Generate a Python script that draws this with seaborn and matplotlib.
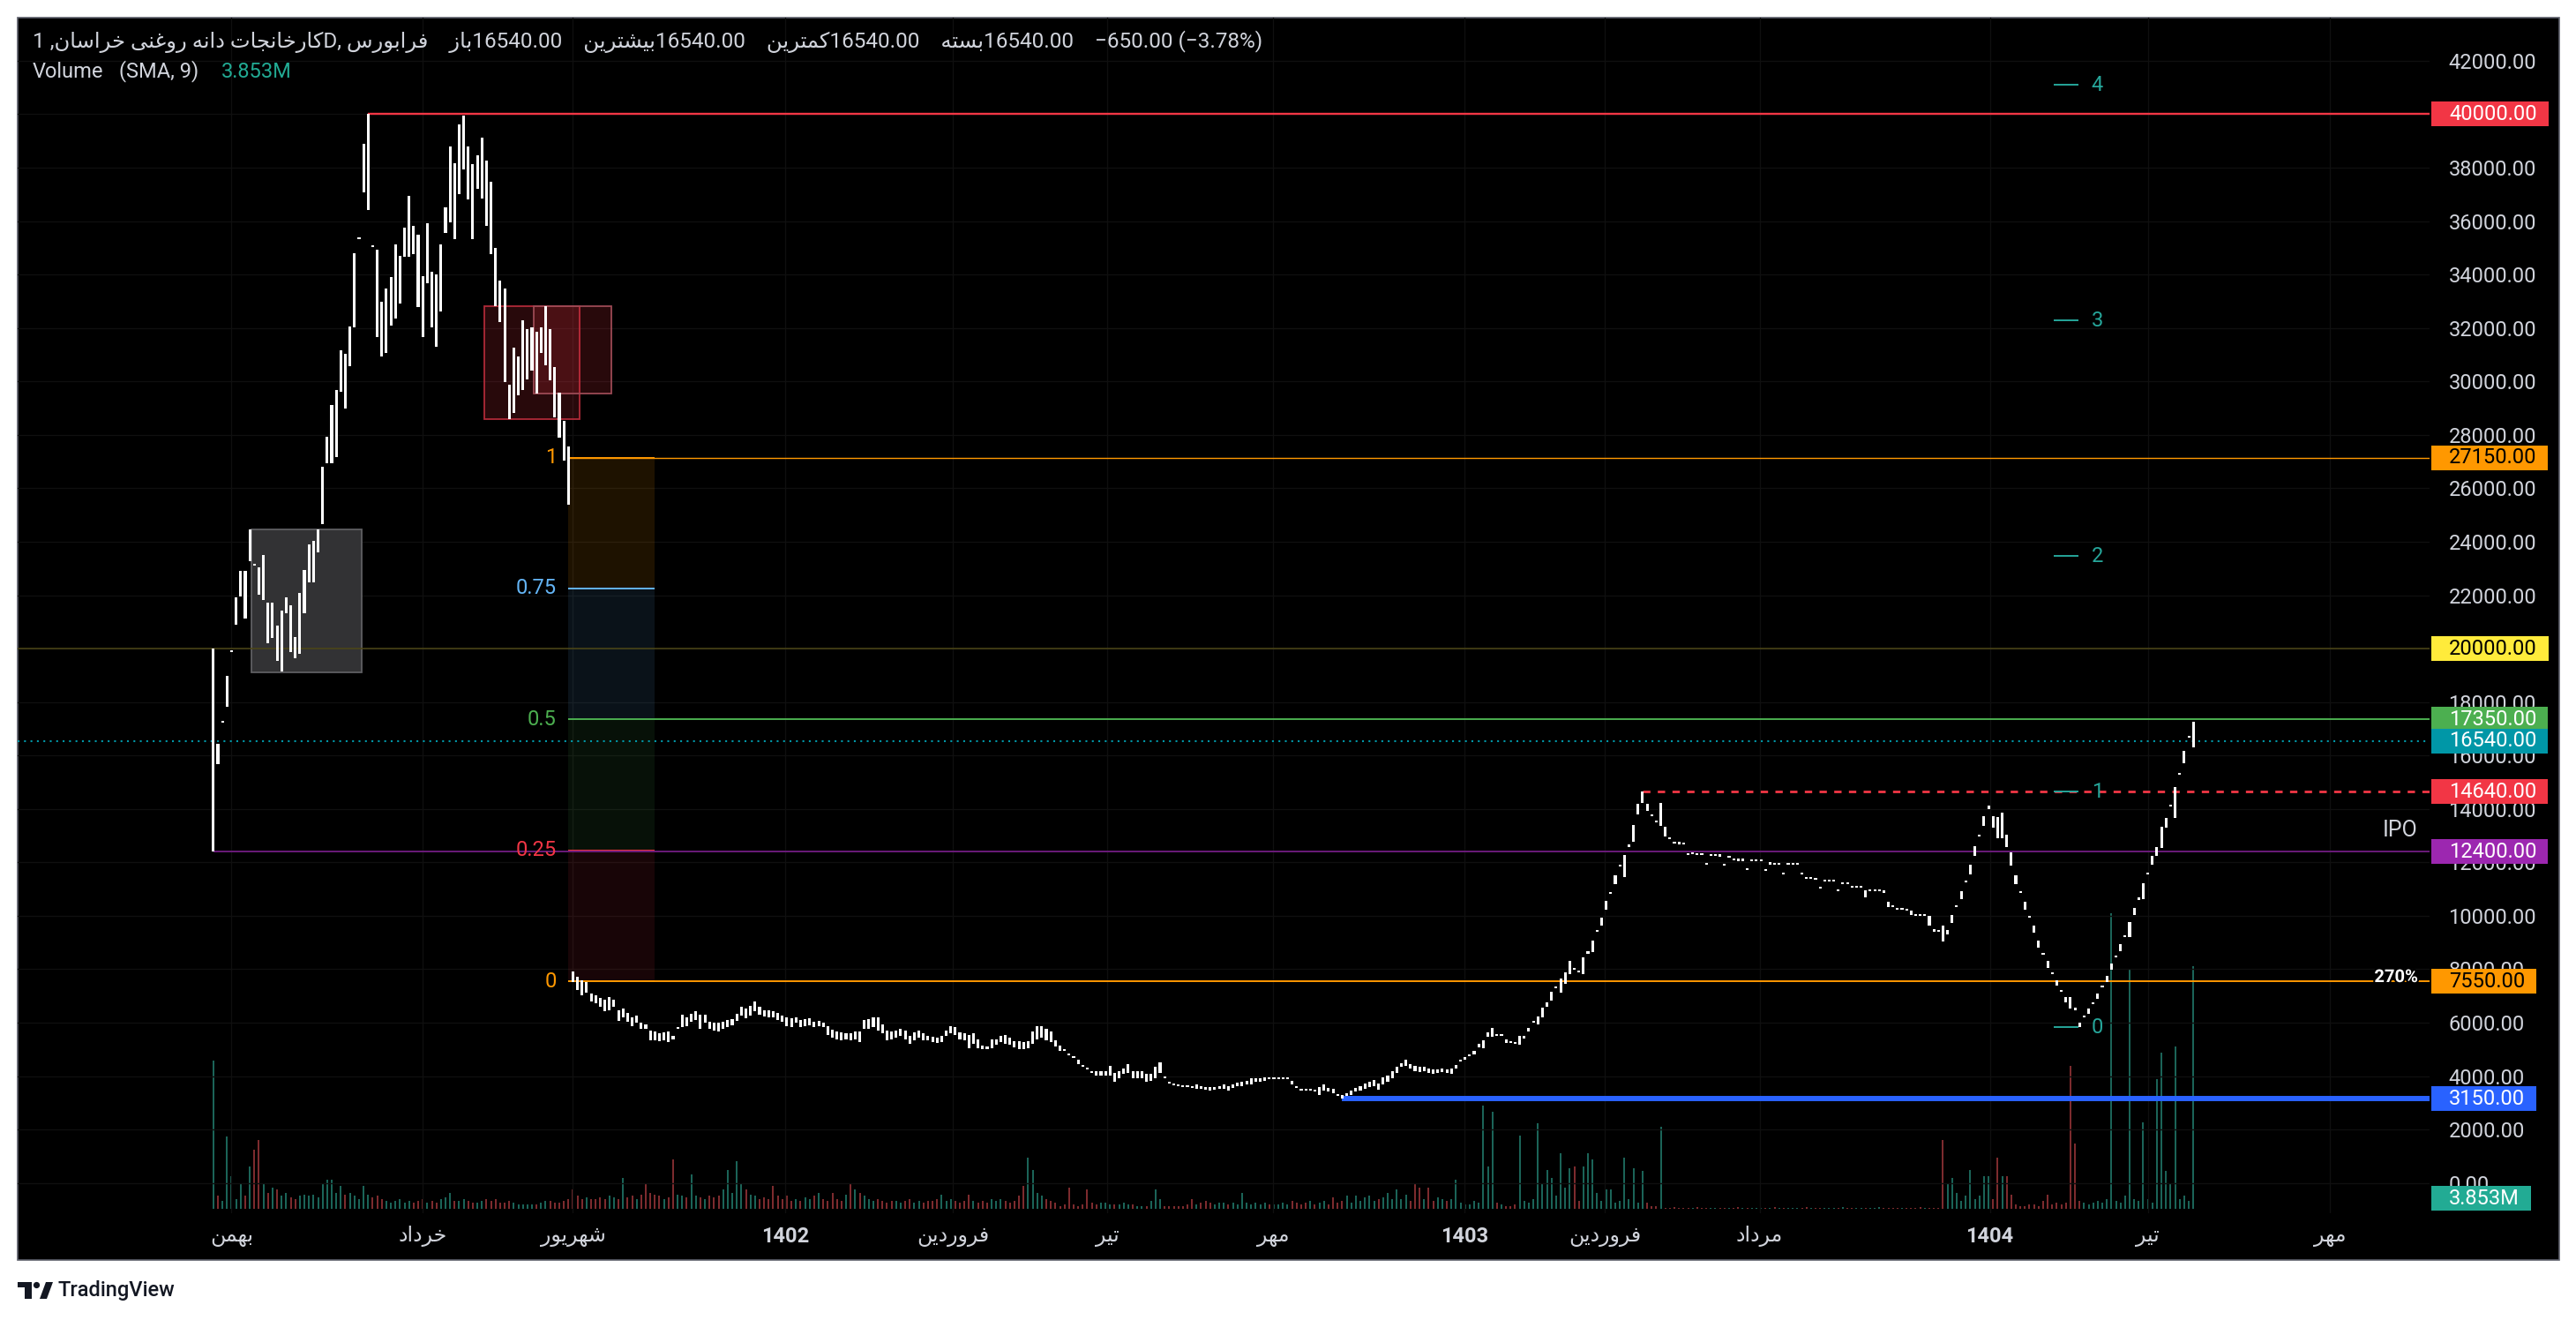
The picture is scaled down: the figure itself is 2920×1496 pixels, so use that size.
import numpy as np
import pandas as pd
import matplotlib
matplotlib.use("Agg")
import matplotlib.pyplot as plt
import matplotlib.patheffects as pe
from matplotlib.patches import Rectangle, Circle, Polygon
from matplotlib.transforms import blended_transform_factory
from matplotlib import font_manager
from matplotlib.ft2font import FT2Font
import seaborn as sns

# ------------------------------------------------------------------
# daily bars (high / low), one entry per session
# ------------------------------------------------------------------
# IPO and first run-up, up to the price adjustment gap
hi_1401 = [20000, 16444, 17240, 18967, 19877, 21907, 22893, 22893, 24468, 23102,
           23026, 23519, 21717, 21717, 20863, 21432, 21907, 21622, 20446, 22097,
           22950, 23899, 24032, 24468, 26801, 27921, 29116, 29685, 31164, 31032,
           32056, 34807, 35319, 38885, 40000, 35015, 34940, 32967, 33479, 33897,
           35129, 34712, 35755, 36950, 35812, 35508, 33953, 35907, 34105, 33991,
           35129, 36514, 38790, 38164, 39606, 39950, 38790, 38126, 38468, 39132,
           38278, 37463, 34997, 33763, 33479, 29874, 31259, 30918, 32303, 31961,
           32018, 31866, 32018, 32815, 31961, 30538, 29590, 28509, 27560]
lo_1401 = [12400, 15690, 17240, 17830, 19877, 20882, 21944, 21110, 23273, 23102,
           22002, 21812, 20200, 20388, 19536, 19157, 21338, 19877, 19631, 19820,
           21338, 22476, 22476, 23614, 24658, 26934, 26934, 27181, 29628, 28983,
           30576, 32018, 35319, 37064, 36419, 35015, 31677, 30918, 31070, 32094,
           32341, 32910, 34655, 34674, 34750, 32777, 31677, 33669, 32018, 31297,
           32625, 35565, 35945, 35338, 37026, 37937, 36798, 35338, 37216, 36836,
           35812, 34769, 32815, 32208, 29969, 28603, 28831, 29495, 29685, 30064,
           30406, 29552, 31070, 30595, 30026, 28641, 27883, 27029, 25379]

# after the gap: long slide down to the 3150 low and first bounce
hi_1402 = [7901, 7704, 7572, 7518, 7080, 7025, 6915, 6861, 6970, 6861,
           6477, 6532, 6368, 6204, 6258, 5985, 5930, 5711, 5656, 5601,
           5634, 5656, 5492, 5766, 6291, 6204, 6335, 6423, 6291, 6313,
           6039, 6006, 5985, 6039, 6094, 6116, 6335, 6587, 6532, 6641,
           6806, 6587, 6477, 6477, 6423, 6368, 6258, 6204, 6149, 6204,
           6094, 6116, 6149, 6039, 6072, 6006, 5875, 5744, 5656, 5634,
           5601, 5601, 5656, 5656, 6094, 6116, 6182, 6182, 5930, 5711,
           5656, 5711, 5766, 5711, 5492, 5634, 5711, 5601, 5492, 5459,
           5437, 5492, 5711, 5875, 5820, 5634, 5601, 5547, 5601, 5382,
           5131, 5109, 5382, 5382, 5492, 5525, 5437, 5306, 5306, 5273,
           5306, 5656, 5875, 5875, 5766, 5656, 5328, 5131, 4944, 4780,
           4670, 4616, 4342, 4233, 4178, 4178, 4178, 4178, 4397, 4123,
           4178, 4287, 4452, 4178, 4178, 4178, 4068, 4068, 4342, 4507,
           3926, 3707, 3652, 3619, 3619, 3597, 3630, 3685, 3630, 3576,
           3576, 3576, 3630, 3685, 3630, 3685, 3740, 3795, 3817, 3904,
           3926, 3926, 3959, 3871, 3871, 3871, 3871, 3871, 3817, 3554,
           3466, 3444, 3444, 3411, 3597, 3685, 3554, 3521, 3269, 3302,
           3357, 3466, 3554, 3630, 3707, 3795, 3849, 3707, 3959, 4013,
           4178, 4342, 4474, 4616, 4452, 4397, 4342, 4342, 4287, 4233,
           4233, 4287, 4233, 4287]
lo_1402 = [7518, 7211, 7025, 7134, 6806, 6729, 6587, 6423, 6477, 6587,
           6061, 6204, 6039, 5875, 5985, 5766, 5766, 5328, 5350, 5306,
           5350, 5273, 5382, 5766, 5820, 5875, 6039, 6094, 5766, 5985,
           5766, 5711, 5678, 5766, 5820, 5897, 6072, 6258, 6149, 6258,
           6444, 6313, 6226, 6204, 6182, 6094, 6039, 5875, 5820, 5985,
           5820, 5875, 5897, 5820, 5875, 5820, 5547, 5437, 5382, 5328,
           5382, 5328, 5382, 5273, 5766, 5766, 5820, 5711, 5601, 5350,
           5382, 5437, 5492, 5382, 5218, 5328, 5437, 5328, 5328, 5273,
           5240, 5273, 5492, 5601, 5547, 5382, 5328, 5054, 5218, 5054,
           5021, 5021, 5054, 5163, 5273, 5218, 5163, 5087, 5021, 5021,
           5054, 5218, 5382, 5437, 5328, 5273, 5109, 4944, 4944, 4780,
           4670, 4452, 4342, 4233, 4101, 4013, 4013, 4013, 4013, 3795,
           3904, 4068, 4123, 3926, 3926, 3926, 3795, 3817, 3926, 4123,
           3926, 3707, 3652, 3619, 3576, 3597, 3554, 3521, 3521, 3499,
           3466, 3488, 3521, 3521, 3466, 3554, 3630, 3630, 3685, 3685,
           3795, 3795, 3817, 3871, 3871, 3871, 3871, 3871, 3685, 3554,
           3466, 3444, 3444, 3411, 3302, 3466, 3411, 3357, 3269, 3150,
           3247, 3302, 3411, 3466, 3521, 3576, 3630, 3488, 3685, 3795,
           3926, 4123, 4342, 4397, 4287, 4178, 4145, 4178, 4101, 4068,
           4123, 4145, 4101, 4068]

# 1403 rally, slow drift, 1404 spike, drop and the latest run
hi_1403 = [4423, 4533, 4698, 4742, 4940, 5215, 5325, 5633, 5798, 5512,
           5512, 5369, 5248, 5215, 5512, 5490, 5787, 5985, 6227, 6568,
           6755, 7140, 7283, 7635, 7877, 8317, 8020, 7888, 8427, 8592,
           9087, 9395, 9945, 10550, 10825, 11507, 11837, 12288, 12585, 13388,
           14180, 14640, 14180, 13740, 13564, 14235, 13322, 12860, 12728, 12684,
           12662, 12277, 12343, 12277, 12266, 11903, 12233, 12233, 12233, 11870,
           12167, 12112, 12057, 12057, 11705, 12035, 12035, 12035, 11672, 12002,
           11903, 11903, 11540, 11903, 11903, 11903, 11540, 11375, 11375, 11375,
           11012, 11276, 11276, 11276, 10913, 11210, 11177, 11045, 11045, 11045,
           10968, 10913, 10913, 10913, 10869, 10517, 10330, 10220, 10220, 10187,
           10187, 10000, 9989, 9989, 9989, 9417, 9395, 9637, 9483, 10033,
           10330, 10913, 11243, 11903, 12607, 12970, 13740, 14125, 13718, 13707,
           13850, 13025, 12387, 11507, 10847, 10517, 9923, 9637, 9065, 8537,
           8317, 7822, 7580, 7151, 6953, 6953, 6568, 5985, 6183, 6535,
           6689, 7085, 7327, 7745, 8207, 8438, 8933, 9197, 9769, 10308,
           10605, 11210, 11540, 12233, 12585, 13322, 13663, 14081, 14818, 15280,
           16160, 16655, 17250]
lo_1403 = [4280, 4533, 4610, 4742, 4808, 5072, 5050, 5457, 5457, 5512,
           5512, 5248, 5248, 5215, 5160, 5402, 5655, 5985, 5930, 6205,
           6590, 6810, 7283, 7107, 7448, 7800, 7965, 7888, 7800, 8592,
           8658, 9395, 9648, 10220, 10825, 11177, 11837, 11463, 12585, 12783,
           13795, 14235, 13927, 13740, 13487, 13377, 12959, 12860, 12706, 12684,
           12662, 12277, 12299, 12277, 12266, 11903, 12233, 12233, 12222, 11870,
           12167, 12079, 12057, 12057, 11705, 12035, 12035, 12035, 11672, 11903,
           11903, 11903, 11540, 11903, 11903, 11903, 11540, 11375, 11375, 11342,
           11012, 11276, 11276, 11276, 10913, 11177, 11177, 11045, 11045, 11045,
           10682, 10913, 10913, 10913, 10869, 10330, 10330, 10220, 10220, 10187,
           10022, 10000, 9989, 9989, 9648, 9417, 9395, 9043, 9307, 9725,
           10330, 10627, 11243, 11562, 12233, 12970, 13355, 13993, 13300, 12893,
           12915, 12563, 11870, 11177, 10847, 10220, 9923, 9362, 8812, 8537,
           8053, 7822, 7393, 7151, 6755, 6535, 6458, 5820, 6183, 6337,
           6689, 6887, 7327, 7525, 7965, 8438, 8680, 9197, 9219, 10022,
           10605, 10627, 11540, 11903, 12255, 12552, 13289, 14081, 13663, 15280,
           15698, 16655, 16300]

# volume, millions of shares
vol_1401 = [6.53, 0.58, 0.36, 3.19, 1.45, 0.44, 1.09, 0.58, 1.89, 2.61,
            3.05, 1.16, 0.73, 0.94, 0.87, 0.58, 0.73, 0.51, 0.44, 0.58,
            0.65, 0.58, 0.65, 0.51, 1.09, 1.31, 1.31, 0.73, 1.02, 0.65,
            0.73, 0.58, 0.44, 1.02, 0.65, 0.51, 0.58, 0.44, 0.36, 0.29,
            0.36, 0.44, 0.29, 0.36, 0.29, 0.36, 0.44, 0.29, 0.36, 0.29,
            0.44, 0.51, 0.73, 0.36, 0.36, 0.44, 0.36, 0.29, 0.29, 0.36,
            0.44, 0.36, 0.44, 0.29, 0.29, 0.36, 0.29, 0.22, 0.22, 0.22,
            0.22, 0.22, 0.29, 0.36, 0.36, 0.29, 0.29, 0.36, 0.44]
vol_1402 = [0.87,
            0.58, 0.44, 0.51, 0.44, 0.44, 0.51, 0.44, 0.58, 0.51, 0.44,
            1.38, 0.51, 0.58, 0.44, 0.65, 1.16, 0.73, 0.65, 0.58, 0.44,
            0.51, 2.18, 0.65, 0.58, 0.51, 1.52, 0.58, 0.51, 0.44, 0.58,
            0.51, 0.58, 0.87, 1.74, 0.73, 2.10, 1.09, 0.87, 0.65, 0.58,
            0.44, 0.51, 0.44, 1.02, 0.58, 0.44, 0.58, 0.36, 0.44, 0.36,
            0.51, 0.44, 0.58, 0.73, 0.44, 0.36, 0.73, 0.44, 0.36, 0.65,
            1.16, 0.87, 0.73, 0.58, 0.44, 0.36, 0.44, 0.36, 0.29, 0.36,
            0.36, 0.29, 0.36, 0.44, 0.29, 0.36, 0.29, 0.36, 0.36, 0.44,
            0.65, 0.36, 0.44, 0.36, 0.29, 0.36, 0.65, 0.36, 0.29, 0.36,
            0.29, 0.44, 0.36, 0.44, 0.36, 0.29, 0.36, 0.58, 1.02, 2.25,
            1.74, 0.73, 0.58, 0.44, 0.36, 0.29, 0.15, 0.22, 0.94, 0.22,
            0.15, 0.22, 0.87, 0.29, 0.22, 0.29, 0.29, 0.22, 0.22, 0.22,
            0.29, 0.22, 0.22, 0.15, 0.15, 0.15, 0.36, 0.87, 0.44, 0.15,
            0.15, 0.15, 0.15, 0.15, 0.22, 0.44, 0.22, 0.29, 0.36, 0.29,
            0.22, 0.29, 0.29, 0.22, 0.29, 0.22, 0.73, 0.29, 0.22, 0.29,
            0.22, 0.29, 0.22, 0.22, 0.22, 0.29, 0.22, 0.36, 0.29, 0.22,
            0.29, 0.36, 0.22, 0.29, 0.36, 0.22, 0.51, 0.29, 0.36, 0.58,
            0.29, 0.58, 0.36, 0.51, 0.58, 0.36, 0.44, 0.51, 0.73, 0.44,
            0.87, 0.44, 0.65, 0.36, 1.09, 0.94, 0.44, 0.94, 0.36, 0.51,
            0.44, 0.36, 0.44]
vol_1403 = [1.31, 0.29, 0.22, 0.22, 0.36, 0.29, 4.57,
            1.89, 4.28, 0.29, 0.22, 0.15, 0.15, 0.22, 3.26, 0.36, 0.29,
            0.44, 3.77, 1.09, 1.74, 1.38, 0.58, 2.47, 0.94, 1.81, 1.89,
            0.36, 1.89, 2.47, 2.18, 0.73, 0.36, 0.87, 0.87, 0.29, 0.36,
            2.25, 0.44, 1.81, 0.29, 1.67, 0.29, 0.15, 0.15, 3.63, 0.07,
            0.07, 0.08, 0.07, 0.07, 0.06, 0.07, 0.08, 0.07, 0.07, 0.07,
            0.07, 0.07, 0.06, 0.07, 0.07, 0.08, 0.07, 0.07, 0.07, 0.06,
            0.07, 0.07, 0.07, 0.08, 0.07, 0.07, 0.06, 0.07, 0.07, 0.07,
            0.08, 0.07, 0.07, 0.07, 0.07, 0.06, 0.07, 0.07, 0.08, 0.07,
            0.07, 0.07, 0.06, 0.07, 0.07, 0.07, 0.08, 0.07, 0.07, 0.07,
            0.07, 0.06, 0.07, 0.07, 0.07, 0.08, 0.07, 0.07, 0.07, 0.07]
vol_1404 = [3.05, 1.16, 1.38, 0.73, 0.36, 0.58, 1.74, 0.44, 0.58, 1.45,
            1.45, 0.44, 2.25, 1.45, 1.45, 0.65, 0.22, 0.15, 0.15, 0.22,
            0.22, 0.15, 0.36, 0.65, 0.22, 0.29, 0.22, 0.29, 6.31, 2.90,
            0.36, 0.29, 0.22, 0.29, 0.36, 0.29, 0.44, 13.05, 0.36, 0.29,
            0.58, 10.59, 0.44, 0.36, 3.84, 0.44, 0.29, 5.73, 6.89, 1.67,
            1.09, 7.18, 0.44, 0.58, 0.36, 10.71]

# drawn horizontal levels: price, first bar, line colour, label colour, label text colour
level_price = [40000, 27150, 20000, 17350, 16540, 14640, 12400, 7550, 3150]
level_from = [34, 78, -43, 97, -43, 314, 0, 78, 248]
level_line = ["#f23645", "#ff9800", "#4d4716", "#4caf50", "#0097a7",
              "#f23645", "#6a1b7a", "#ff9800", "#2962ff"]
level_box = ["#f23645", "#ff9800", "#ffeb3b", "#4caf50", "#0097a7",
             "#f23645", "#9c27b0", "#ff9800", "#2962ff"]
level_ink = ["white", "black", "black", "white", "white",
             "white", "white", "black", "white"]
level_style = ["-", "-", "-", "-", (0, (1, 2.5)), (0, (3, 3)), "-", "-", "-"]
level_width = [1.7, 1.0, 1.1, 1.4, 1.5, 2.0, 1.4, 1.4, 4.3]

# fib retracement drawn on the gap
fib_top, fib_bottom = 27150, 7550
fib_ratios = [1, 0.75, 0.5, 0.25, 0]
fib_names = ["1", "0.75", "0.5", "0.25", "0"]
fib_colors = ["#ff9800", "#64b5f6", "#4caf50", "#f23645", "#ff9800"]
fib_fill_alpha = [0.12, 0.10, 0.10, 0.10]
fib_bars = (78, 97)

# fib extension markers on the right
target_levels = [5820, 14640, 23460, 32280, 41100]
target_bars = (404.3, 409.7)

# rectangles: bar from, bar to, price low, price high
zone_gray = (8.3, 32.6, 19100, 24468)
zone_red_a = (59.5, 80.5, 28585, 32815)
zone_red_b = (70.4, 87.4, 29533, 32815)

month_pos = [4.0, 46.0, 79.0, 125.6, 162.5, 196.4, 232.9, 274.8, 305.7, 339.7, 390.3, 425.0, 465.0]
month_names = ["بهمن", "خرداد", "شهریور", "1402", "فروردین", "تیر", "مهر",
               "1403", "فروردین", "مرداد", "1404", "تیر", "مهر"]
price_ticks = list(range(0, 42001, 2000))

# ------------------------------------------------------------------
# persian text: matplotlib does no shaping, so pick presentation forms
# ------------------------------------------------------------------
dejavu_path = font_manager.findfont(font_manager.FontProperties(family="DejaVu Sans"))
charmap = FT2Font(dejavu_path).get_charmap()
if all(cp in charmap for cp in (0xFB90, 0xFB91, 0xFBFC, 0xFBFD, 0xFBFE, 0xFBFF)):
    KEHEH = ("\uFB8E", "\uFB8F", "\uFB90", "\uFB91")
    FYEH = ("\uFBFC", "\uFBFD", "\uFBFE", "\uFBFF")
else:
    KEHEH = ("\uFED9", "\uFEDA", "\uFEDB", "\uFEDC")
    FYEH = ("\uFEEF", "\uFEF0", "\uFEF3", "\uFEF4")

FORMS = {
    "ا": ("\uFE8D", "\uFE8E", None, None),
    "ب": ("\uFE8F", "\uFE90", "\uFE91", "\uFE92"),
    "ت": ("\uFE95", "\uFE96", "\uFE97", "\uFE98"),
    "ج": ("\uFE9D", "\uFE9E", "\uFE9F", "\uFEA0"),
    "خ": ("\uFEA5", "\uFEA6", "\uFEA7", "\uFEA8"),
    "د": ("\uFEA9", "\uFEAA", None, None),
    "ر": ("\uFEAD", "\uFEAE", None, None),
    "ز": ("\uFEAF", "\uFEB0", None, None),
    "س": ("\uFEB1", "\uFEB2", "\uFEB3", "\uFEB4"),
    "ش": ("\uFEB5", "\uFEB6", "\uFEB7", "\uFEB8"),
    "غ": ("\uFECD", "\uFECE", "\uFECF", "\uFED0"),
    "ف": ("\uFED1", "\uFED2", "\uFED3", "\uFED4"),
    "ک": KEHEH,
    "م": ("\uFEE1", "\uFEE2", "\uFEE3", "\uFEE4"),
    "ن": ("\uFEE5", "\uFEE6", "\uFEE7", "\uFEE8"),
    "ه": ("\uFEE9", "\uFEEA", "\uFEEB", "\uFEEC"),
    "و": ("\uFEED", "\uFEEE", None, None),
    "ی": FYEH,
}


def fa(text):
    out = []
    for k, ch in enumerate(text):
        forms = FORMS.get(ch)
        if forms is None:
            out.append(ch)
            continue
        prev = text[k - 1] if k > 0 else ""
        nxt = text[k + 1] if k + 1 < len(text) else ""
        join_prev = prev in FORMS and FORMS[prev][2] is not None
        join_next = nxt in FORMS and forms[2] is not None
        if join_prev and join_next:
            out.append(forms[3])
        elif join_prev:
            out.append(forms[1])
        elif join_next:
            out.append(forms[2])
        else:
            out.append(forms[0])
    return "".join(reversed(out))


def label(s):
    return s if s.isdigit() else fa(s)


# ------------------------------------------------------------------
sns.set_theme(style="dark", rc={"axes.grid": False})
plt.rcParams["font.family"] = ["Roboto", "DejaVu Sans"]

bars = pd.DataFrame({
    "hi": hi_1401 + hi_1402 + hi_1403,
    "lo": lo_1401 + lo_1402 + lo_1403,
    "vol": vol_1401 + vol_1402 + vol_1403 + vol_1404,
})
bars["bar"] = np.arange(len(bars))
bars["span"] = np.maximum(bars["hi"] - bars["lo"], 70)
mid = (bars["hi"] + bars["lo"]) / 2
bars["up"] = mid.diff().fillna(0) >= 0

W, H = 2920, 1496
TXT = "#d1d4dc"
X_LEFT, X_RIGHT = -43.0, 486.9
Y_LOW, Y_HIGH = -1134, 43616

fig = plt.figure(figsize=(W / 100, H / 100), dpi=100, facecolor="white")
fig.patches.append(Rectangle((20 / W, 1 - 1428 / H), 2881 / W, 1408 / H,
                             transform=fig.transFigure, facecolor="black",
                             edgecolor="#5d606b", linewidth=1.2, zorder=-10))

ax = fig.add_axes([20 / W, 1 - 1375 / H, 2734 / W, 1355 / H])
tw = ax.twinx()
ax.set_zorder(tw.get_zorder() + 1)
ax.patch.set_visible(False)
tw.patch.set_visible(False)

# volume pane
vol_colors = np.where(bars["up"], "#1e6f62", "#8b3034")
tw.vlines(bars["bar"], 0, bars["vol"], colors=vol_colors, linewidth=1.3)
tw.set_ylim(-0.18, 52.5)
tw.set_yticks([])
tw.tick_params(right=False, labelright=False)

# faint grid
for p in price_ticks:
    ax.axhline(p, color="#0f0f0f", linewidth=1, zorder=0)
for b in month_pos:
    ax.axvline(b, color="#0f0f0f", linewidth=1, zorder=0)

# rectangles drawn on the chart
red_fill = (0.949, 0.212, 0.271, 0.17)
for (b0, b1, p0, p1), fc, ec in [
        (zone_gray, "#323234", "#5f5f62"),
        (zone_red_a, red_fill, "#b02a38"),
        (zone_red_b, red_fill, "#9c4a55")]:
    ax.add_patch(Rectangle((b0, p0), b1 - b0, p1 - p0, facecolor=fc,
                           edgecolor=ec, linewidth=1.3, zorder=1))

# fib retracement box
fib_prices = [fib_bottom + r * (fib_top - fib_bottom) for r in fib_ratios]
for k in range(4):
    ax.fill_between([fib_bars[0], fib_bars[1]], fib_prices[k + 1], fib_prices[k],
                    color=fib_colors[k], alpha=fib_fill_alpha[k], linewidth=0, zorder=1)
for p, name, c in zip(fib_prices, fib_names, fib_colors):
    ax.hlines(p, fib_bars[0], fib_bars[1], colors=c, linewidth=1.4, zorder=3)
    ax.text(75.4, p, name, color=c, fontsize=17, ha="right", va="center", zorder=6)

# level lines
for p, x0, c, ls, lw in zip(level_price, level_from, level_line, level_style, level_width):
    ax.hlines(p, x0, X_RIGHT, colors=c, linestyles=ls, linewidth=lw, zorder=3)

# extension markers
for k, p in enumerate(target_levels):
    ax.hlines(p, target_bars[0], target_bars[1], colors="#26a69a", linewidth=1.4, zorder=5)
    ax.text(412.6, p, str(k), color="#26a69a", fontsize=17, ha="left", va="center", zorder=6)

# price bars
ax.bar(bars["bar"], bars["span"], bottom=bars["lo"], width=0.6,
       color="white", linewidth=0, zorder=4)

ax.set_xlim(X_LEFT, X_RIGHT)
ax.set_ylim(Y_LOW, Y_HIGH)
tw.set_xlim(X_LEFT, X_RIGHT)
ax.set_xticks([])
ax.yaxis.tick_right()
ax.set_yticks(price_ticks)
ax.set_yticklabels([f"{v:.2f}" for v in price_ticks])
ax.tick_params(axis="y", length=0, pad=15.5, labelsize=17, labelcolor=TXT)
for a in (ax, tw):
    for s in a.spines.values():
        s.set_visible(False)

# time axis
tx = blended_transform_factory(ax.transData, ax.transAxes)
for b, name in zip(month_pos, month_names):
    ax.text(b, -0.0195, label(name), transform=tx, ha="center", va="center",
            fontsize=17, color=TXT, fontweight="bold" if name.isdigit() else "normal",
            clip_on=False)

# right-axis price tags
ty = blended_transform_factory(ax.transAxes, ax.transData)
renderer = fig.canvas.get_renderer()
half = 14 * (Y_HIGH - Y_LOW) / 1355
tags = list(zip(level_price, [f"{p:.2f}" for p in level_price], level_box, level_ink))
tags.append((-585, "3.853M", "#22ab94", "white"))
for p, txt, bg, ink in tags:
    t = ax.text(1.0081, p, txt, transform=ty, ha="left", va="center", color=ink,
                fontsize=17, zorder=8, clip_on=False)
    wpx = t.get_window_extent(renderer).width
    bottom = max(p - half, Y_LOW)
    ax.add_patch(Rectangle((1.0007, bottom), (wpx + 33) / 2734, p + half - bottom,
                           transform=ty, facecolor=bg, edgecolor="none",
                           zorder=7, clip_on=False))

ax.text(0.9952, 13200, "IPO", transform=ty, ha="right", va="center",
        fontsize=18, color=TXT, zorder=6)
ax.text(0.9952, 7700, "270%", transform=ty, ha="right", va="center",
        fontsize=14.5, color="white", fontweight="bold", zorder=6,
        path_effects=[pe.withStroke(linewidth=3, foreground="black")])

# legend lines at the top
head = ("1 ," + fa("کارخانجات دانه روغنی خراسان") + "D, " + fa("فرابورس") +
        "    " + fa("باز") + "16540.00    " + fa("بیشترین") + "16540.00    " +
        fa("کمترین") + "16540.00    " + fa("بسته") + "16540.00    −650.00 (−3.78%)")
fig.text(37 / W, 1 - 47 / H, head, fontsize=17.5, color=TXT, ha="left", va="center")
fig.text(37 / W, 1 - 81 / H, "Volume", fontsize=17, color=TXT, ha="left", va="center")
fig.text(135 / W, 1 - 81 / H, "(SMA, 9)", fontsize=17, color=TXT, ha="left", va="center")
fig.text(251 / W, 1 - 81 / H, "3.853M", fontsize=17, color="#22ab94", ha="left", va="center")

# TradingView mark
ov = fig.add_axes([0, 0, 1, 1], zorder=20)
ov.set_xlim(0, W)
ov.set_ylim(H, 0)
ov.axis("off")
ov.patch.set_visible(False)
ink = "#131722"
ov.add_patch(Rectangle((20, 1453), 16, 6, facecolor=ink, edgecolor="none"))
ov.add_patch(Rectangle((28, 1453), 8, 19, facecolor=ink, edgecolor="none"))
ov.add_patch(Circle((41.5, 1456.5), 3.6, facecolor=ink, edgecolor="none"))
ov.add_patch(Polygon([(45, 1472), (53, 1472), (60, 1453), (52, 1453)], closed=True,
                     facecolor=ink, edgecolor="none"))
ov.text(66, 1462, "TradingView", fontsize=17, color=ink, ha="left", va="center",
        fontweight="medium")

fig.savefig("out.png", dpi=100, facecolor="white")
